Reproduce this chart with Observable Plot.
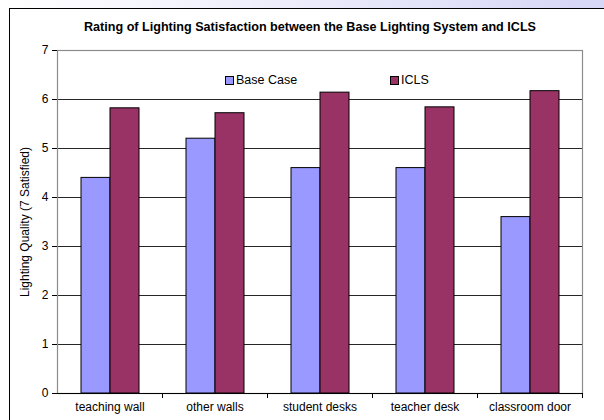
<!DOCTYPE html>
<html>
<head>
<meta charset="utf-8">
<script src="https://cdn.jsdelivr.net/npm/d3@7"></script>
<script src="https://cdn.jsdelivr.net/npm/@observablehq/plot@0.6"></script>
<style>
  html, body { margin: 0; padding: 0; }
  body {
    width: 604px; height: 420px; overflow: hidden; position: relative;
    background: linear-gradient(to right, #ffffff 0%, #f0f0fc 40%, #d6d6f6 100%);
    font-family: "Liberation Sans", Arial, sans-serif;
  }
  #frame {
    position: absolute; left: 9px; top: 8px; width: 620px; height: 440px;
    background: #fff; border: 1.6px solid #000;
  }
  #title {
    position: absolute; left: 0; top: 20px; width: 620px; text-align: center;
    font-weight: bold; font-size: 12.6px; color: #000;
  }
  #chart { position: absolute; left: 0; top: 0; }
  .legend { position: absolute; top: 73px; font-size: 12.5px; color: #000; display: flex; align-items: center; }
  .legend .sw { width: 7px; height: 7px; border: 1px solid #000; margin-right: 2px; }
</style>
</head>
<body>
<div id="frame"></div>
<div id="title"></div>
<div id="chart"></div>
<div class="legend" id="lg0"><span class="sw"></span><span class="tx"></span></div>
<div class="legend" id="lg1"><span class="sw"></span><span class="tx"></span></div>
<script>
const titleText = "Rating of Lighting Satisfaction between the Base Lighting System and ICLS";
const yLabel = "Lighting Quality (7 Satisfied)";
const categories = ["teaching wall", "other walls", "student desks", "teacher desk", "classroom door"];
const seriesNames = ["Base Case", "ICLS"];
const baseCase = [4.4, 5.2, 4.6, 4.6, 3.6];
const icls = [5.82, 5.72, 6.14, 5.84, 6.17];
const seriesColors = ["#9999ff", "#993366"];
const yTicks = [0, 1, 2, 3, 4, 5, 6, 7];
const gridValues = [1, 2, 3, 4, 5, 6];

const data = [];
categories.forEach((c, i) => {
  data.push({cat: c, series: seriesNames[0], value: baseCase[i]});
  data.push({cat: c, series: seriesNames[1], value: icls[i]});
});

document.getElementById("title").textContent = titleText;

const W = 604, H = 420;
const mL = 57, mR = 22, mT = 50, mB = 27;
const step = (W - mL - mR) / categories.length;

const chart = Plot.plot({
  width: W, height: H,
  marginLeft: mL, marginRight: mR, marginTop: mT, marginBottom: mB,
  style: {fontFamily: "'Liberation Sans', Arial, sans-serif", fontSize: "12px", color: "#000", background: "transparent", overflow: "visible"},
  fx: {domain: categories, padding: 0, axis: null},
  x: {domain: seriesNames, paddingInner: 0, paddingOuter: 0.81, axis: null},
  y: {domain: [0, 7], axis: null},
  color: {domain: seriesNames, range: seriesColors},
  marks: [
    Plot.ruleY(gridValues, {stroke: "#000", strokeWidth: 1, strokeOpacity: 0.85}),
    Plot.frame({facet: "super", stroke: "#8c8c8c", strokeWidth: 1.2}),
    Plot.barY(data, {fx: "cat", x: "series", y: "value", fill: "series", stroke: "#000", strokeWidth: 1}),
    Plot.ruleY([0], {stroke: "#000", strokeWidth: 1}),
    Plot.axisY({ticks: yTicks, tickSize: 5, tickPadding: 4, tickFormat: d => String(d), fontSize: 12,
      label: yLabel, labelAnchor: "center", labelArrow: "none", labelOffset: 37, line: true, stroke: "#000"}),
    Plot.axisFx({anchor: "bottom", tickSize: 5, dx: step / 2, text: null, label: null, stroke: "#000"}),
    Plot.axisFx({anchor: "bottom", tickSize: 0, tickPadding: 9, fontSize: 12, label: null})
  ]
});
document.getElementById("chart").appendChild(chart);

// HTML legend using the plot's color scale
const color = chart.scale("color");
const lgPos = [[225, "lg0"], [390, "lg1"]];
seriesNames.forEach((s, i) => {
  const el = document.getElementById(lgPos[i][1]);
  el.style.left = lgPos[i][0] + "px";
  el.querySelector(".sw").style.background = color.apply(s);
  el.querySelector(".tx").textContent = s;
});
</script>
</body>
</html>
